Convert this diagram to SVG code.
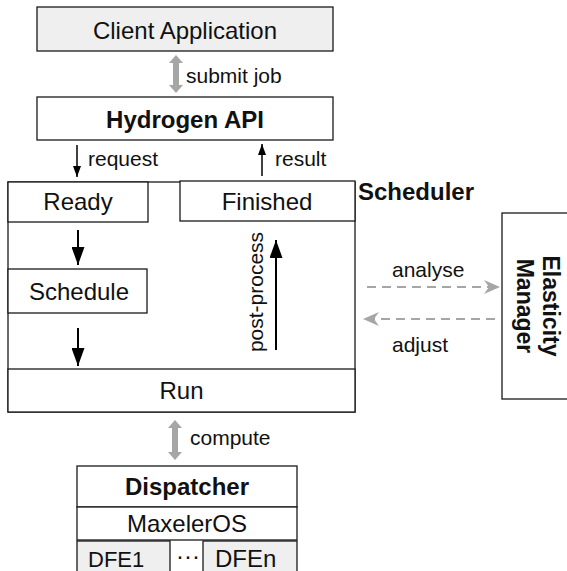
<svg xmlns="http://www.w3.org/2000/svg" width="567" height="571" viewBox="0 0 567 571">
<style>
.box{fill:#fff;stroke:#1a1a1a;stroke-width:1.3}
.gbox{fill:#efefef;stroke:#1a1a1a;stroke-width:1.3}
.t{font-family:"Liberation Sans",Arial,sans-serif;font-size:24px;fill:#111}
.b{font-weight:bold}
.c{text-anchor:middle}
.lbl{font-family:"Liberation Sans",Arial,sans-serif;font-size:21px;fill:#111}
.blk{stroke:#000;stroke-width:2;fill:none}
.thin{stroke:#000;stroke-width:1.5;fill:none}
.dash{stroke:#a6a6a6;stroke-width:2.2;stroke-dasharray:9,6;fill:none}
</style>
<defs>
<marker id="ah" markerWidth="18" markerHeight="13" refX="18" refY="6.5" orient="auto" markerUnits="userSpaceOnUse">
<path d="M0,0 L18,6.5 L0,13 Z" fill="#000"/>
</marker>
<marker id="ahs" markerWidth="11" markerHeight="8" refX="11" refY="4" orient="auto" markerUnits="userSpaceOnUse">
<path d="M0,0 L11,4 L0,8 Z" fill="#000"/>
</marker>
</defs>

<g id="client"><rect class="gbox" x="37" y="7" width="296" height="44"/><text class="t c" x="185" y="39">Client Application</text></g>
<g id="hydrogen"><rect class="box" x="37" y="97" width="296" height="43"/><text class="t b c" x="185" y="128">Hydrogen API</text></g>

<g id="scheduler">
<rect class="box" x="8" y="182" width="347" height="230"/>
<text class="t b" x="358" y="200">Scheduler</text>
</g>
<g id="ready"><rect class="box" x="8" y="182" width="140" height="40"/><text class="t c" x="78" y="210">Ready</text></g>
<g id="finished"><rect class="box" x="180" y="181" width="175" height="40"/><text class="t c" x="267" y="210">Finished</text></g>
<g id="schedule"><rect class="box" x="8" y="269" width="139" height="44"/><text class="t c" x="79" y="300">Schedule</text></g>
<g id="run"><rect class="box" x="8" y="369" width="347" height="43"/><text class="t c" x="181.5" y="399">Run</text></g>

<g id="elasticity"><rect class="box" x="502" y="213" width="80" height="186"/>
<text class="t b c" style="font-size:23px" transform="translate(543,306) rotate(90)">Elasticity</text>
<text class="t b c" style="font-size:23px" transform="translate(517,306) rotate(90)">Manager</text>
</g>

<g id="dispatcher"><rect class="box" x="77" y="466" width="220" height="41"/><text class="t b c" x="187" y="495">Dispatcher</text></g>
<g id="maxeleros"><rect class="box" x="77" y="507" width="220" height="33"/><text class="t c" x="187" y="532">MaxelerOS</text></g>
<g id="dfe1"><rect class="gbox" x="77" y="541" width="93" height="40"/><text class="t" style="font-size:22px" x="88" y="567">DFE1</text></g>
<g id="dfen"><rect class="gbox" x="203" y="541" width="94" height="40"/><text class="t" style="font-size:24px" x="215" y="567">DFEn</text></g>
<text class="t" x="176" y="564">···</text>

<g id="connectors">
<path d="M176,55 L183,63 L179,63 L179,85 L183,85 L176,93 L169,85 L173,85 L173,63 L169,63 Z" fill="#a6a6a6"/>
<text class="lbl" x="186" y="83">submit job</text>
<line class="thin" x1="77" y1="145" x2="77" y2="177" marker-end="url(#ahs)"/>
<text class="lbl" x="88" y="166">request</text>
<line class="thin" x1="262" y1="176" x2="262" y2="144" marker-end="url(#ahs)"/>
<text class="lbl" x="275" y="166">result</text>
<line class="blk" x1="78" y1="230" x2="78" y2="265" marker-end="url(#ah)"/>
<line class="blk" x1="78" y1="328" x2="78" y2="366" marker-end="url(#ah)"/>
<line class="blk" x1="276" y1="350" x2="276" y2="240" marker-end="url(#ah)"/>
<text class="lbl c" transform="translate(263,292) rotate(-90)">post-process</text>
<line class="dash" x1="367" y1="287" x2="490" y2="287"/>
<path d="M500,287 L484,280 L489,287 L484,294 Z" fill="#a6a6a6"/>
<text class="lbl" x="392" y="277">analyse</text>
<line class="dash" x1="495" y1="319" x2="374" y2="319"/>
<path d="M363,319 L379,312 L374,319 L379,326 Z" fill="#a6a6a6"/>
<text class="lbl" x="392" y="352">adjust</text>
<path d="M175,420 L182,428 L178,428 L178,452 L182,452 L175,460 L168,452 L172,452 L172,428 L168,428 Z" fill="#a6a6a6"/>
<text class="lbl" x="190" y="445">compute</text>
</g>
</svg>
